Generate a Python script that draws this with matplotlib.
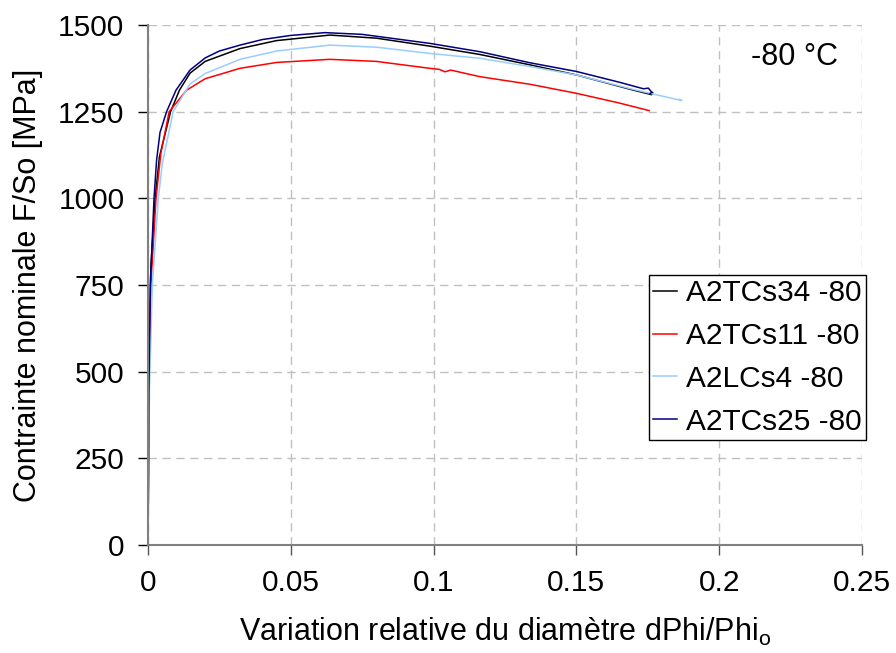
import matplotlib
matplotlib.use("Agg")
import matplotlib.pyplot as plt

plt.rcParams["font.family"] = ["Liberation Sans", "DejaVu Sans"]

# data (x = dPhi/Phi0, y = F/So in MPa)
x_34 = [0, 0.0004, 0.001, 0.0025, 0.004, 0.0079, 0.011, 0.0147, 0.02, 0.0322,
        0.045, 0.0637, 0.08, 0.0987, 0.1162, 0.1338, 0.15, 0.17, 0.1764, 0.1767]
y_34 = [0, 500, 800, 1000, 1120, 1250, 1312, 1361, 1395, 1432,
        1455, 1471, 1462, 1439, 1415, 1385, 1356, 1312, 1299, 1305]

x_11 = [0, 0.0003, 0.001, 0.0028, 0.0045, 0.0074, 0.0135, 0.02, 0.0322, 0.045,
        0.0637, 0.08, 0.0987, 0.102, 0.104, 0.106, 0.1162, 0.1338, 0.15, 0.165, 0.1755]
y_11 = [0, 450, 750, 1000, 1130, 1250, 1312, 1345, 1375, 1392,
        1401, 1395, 1375, 1372, 1365, 1370, 1351, 1329, 1303, 1275, 1253]

x_4 = [0, 0.0005, 0.0015, 0.0036, 0.005, 0.0088, 0.0147, 0.02, 0.0322, 0.045,
       0.0637, 0.08, 0.0987, 0.1162, 0.1338, 0.15, 0.17, 0.1869, 0.1862]
y_4 = [0, 450, 750, 1000, 1100, 1250, 1330, 1360, 1401, 1425,
       1442, 1436, 1418, 1404, 1380, 1356, 1314, 1282, 1286]

x_25 = [0, 0.0003, 0.0008, 0.0021, 0.003, 0.0042, 0.0065, 0.0098, 0.0147, 0.02,
        0.025, 0.0322, 0.04, 0.05, 0.062, 0.075, 0.0987, 0.1162, 0.1338, 0.15,
        0.165, 0.1735, 0.1752, 0.1764, 0.1758]
y_25 = [0, 450, 750, 1000, 1110, 1190, 1250, 1312, 1370, 1405,
        1425, 1442, 1458, 1470, 1478, 1473, 1447, 1423, 1391, 1366,
        1335, 1316, 1318, 1306, 1302]

labels = ["A2TCs34 -80", "A2TCs11 -80", "A2LCs4 -80", "A2TCs25 -80"]
colors = ["#000000", "#ff0000", "#99ccff", "#000080"]

yticks = [0, 250, 500, 750, 1000, 1250, 1500]
xticks = [0, 0.05, 0.1, 0.15, 0.2, 0.25]
xticklabels = ["0", "0.05", "0.1", "0.15", "0.2", "0.25"]

fig = plt.figure(figsize=(8.96, 6.53), dpi=100)
ax = fig.add_axes([0.1652, 0.1654, 0.7968, 0.7963])

ax.plot(x_34, y_34, color=colors[0], lw=1.1, label=labels[0])
ax.plot(x_11, y_11, color=colors[1], lw=1.1, label=labels[1])
ax.plot(x_4, y_4, color=colors[2], lw=1.1, label=labels[2])
ax.plot(x_25, y_25, color=colors[3], lw=1.1, label=labels[3])

ax.set_xlim(0, 0.25)
ax.set_ylim(0, 1500)
ax.set_xticks(xticks)
ax.set_xticklabels(xticklabels)
ax.set_yticks(yticks)

ax.grid(True, color="#c0c0c0", linestyle=(0, (6, 4)), lw=1)
ax.set_axisbelow(True)

for s in ["top", "right"]:
    ax.spines[s].set_visible(False)
for s in ["left", "bottom"]:
    ax.spines[s].set_color("#808080")
    ax.spines[s].set_linewidth(1.5)

ax.tick_params(axis="both", labelsize=21.5, length=7, width=1, pad=10)
ax.tick_params(axis="y", color="black")
ax.tick_params(axis="x", color="#555555")

ax.set_xlabel("Variation relative du diamètre dPhi/Phi$_\\mathregular{o}$", fontsize=22, labelpad=14)
ax.set_ylabel("Contrainte nominale F/So [MPa]", fontsize=22, labelpad=11)

ax.text(0.2265, 1385, "-80 °C", fontsize=22, ha="center", va="baseline")

leg = ax.legend(loc="upper right", bbox_to_anchor=(1.006, 0.52), borderaxespad=0,
                fontsize=21.5, handlelength=0.8, handletextpad=0.3, labelspacing=0.5,
                borderpad=0.15, fancybox=False, framealpha=1, edgecolor="black")
leg.get_frame().set_linewidth(1)

fig.savefig("out.png", dpi=100)
